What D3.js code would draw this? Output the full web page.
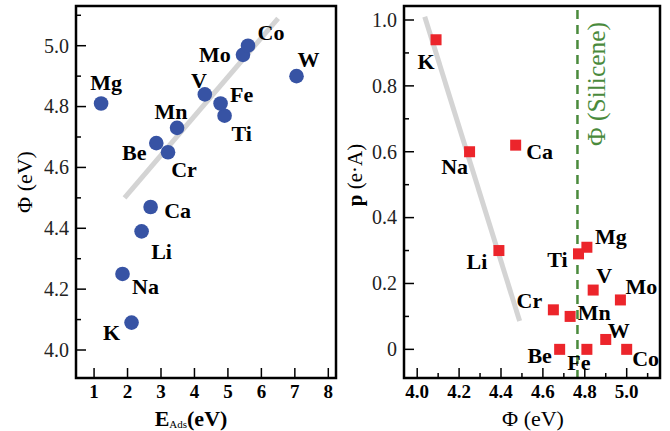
<!DOCTYPE html>
<html>
<head>
<meta charset="utf-8">
<script src="https://cdn.jsdelivr.net/npm/d3@7"></script>
<style>
  body { margin: 0; background: #fff; }
  svg text { font-family: "Liberation Serif", "Times New Roman", serif; }
</style>
</head>
<body>
<script>
// data
const elements = ['K', 'Na', 'Li', 'Ca', 'Be', 'Cr', 'Mn', 'Mg', 'Ti', 'Fe', 'V', 'Mo', 'W', 'Co'];
const eAds   = [2.12, 1.85, 2.42, 2.69, 2.86, 3.21, 3.48, 1.21, 4.90, 4.78, 4.31, 5.45, 7.05, 5.60];
const phi    = [4.09, 4.25, 4.39, 4.47, 4.68, 4.65, 4.73, 4.81, 4.77, 4.81, 4.84, 4.97, 4.90, 5.00];
const dipole = [0.94, 0.60, 0.30, 0.62, 0.00, 0.12, 0.10, 0.31, 0.29, 0.00, 0.18, 0.15, 0.03, 0.00];

const leftFit = [[1.91, 4.50], [6.50, 5.09]];
const rightFit = [[4.036, 1.01], [4.489, 0.086]];
const silicenePhi = 4.765;

const leftXTicks = [1, 2, 3, 4, 5, 6, 7, 8];
const leftYTicks = [4.0, 4.2, 4.4, 4.6, 4.8, 5.0];
const leftYMinor = [4.1, 4.3, 4.5, 4.7, 4.9, 5.1];
const rightXTicks = [4.0, 4.2, 4.4, 4.6, 4.8, 5.0];
const rightXMinor = [4.1, 4.3, 4.5, 4.7, 4.9, 5.1];
const rightYTicks = [0, 0.2, 0.4, 0.6, 0.8, 1.0];
const rightYMinor = [0.1, 0.3, 0.5, 0.7, 0.9];

const width = 670, height = 431;
const svg = d3.select('body').append('svg').attr('width', width).attr('height', height);

// label offsets (px) from each marker
const leftLabelPos = {
  K: [-20, 10], Na: [23, 13], Li: [20, 20], Ca: [27, 4], Be: [-22, 9], Cr: [16, 17], Mn: [-6, -16],
  Mg: [5, -21], Ti: [17, 18], Fe: [21, -9], V: [-6, -14], Mo: [-28, 0], W: [12, -17], Co: [23, -13]
};
const rightLabelPos = {
  K: [-10, 22], Na: [-15, 15], Li: [-22, 11], Ca: [24, 6], Be: [-20, 6], Cr: [-24, -9], Mn: [24, -4],
  Mg: [24, -11], Ti: [-21, 6], Fe: [-8, 13], V: [11, -15], Mo: [21, -13], W: [13, -9], Co: [19, 9]
};

function frame(x0, x1, y0, y1) {
  svg.append('rect')
    .attr('x', x0).attr('y', y0)
    .attr('width', x1 - x0).attr('height', y1 - y0)
    .attr('fill', 'none').attr('stroke', '#000').attr('stroke-width', 2.5);
}

function ticks(g, xScale, yScale, xMaj, xMin, yMaj, yMin, xFmt, yFmt, x0, y1) {
  xMaj.forEach(v => g.append('line').attr('x1', xScale(v)).attr('x2', xScale(v))
    .attr('y1', y1).attr('y2', y1 - 10).attr('stroke', '#000').attr('stroke-width', 1.5));
  xMin.forEach(v => g.append('line').attr('x1', xScale(v)).attr('x2', xScale(v))
    .attr('y1', y1).attr('y2', y1 - 5).attr('stroke', '#000').attr('stroke-width', 1.5));
  yMaj.forEach(v => g.append('line').attr('y1', yScale(v)).attr('y2', yScale(v))
    .attr('x1', x0).attr('x2', x0 + 10).attr('stroke', '#000').attr('stroke-width', 1.5));
  yMin.forEach(v => g.append('line').attr('y1', yScale(v)).attr('y2', yScale(v))
    .attr('x1', x0).attr('x2', x0 + 5).attr('stroke', '#000').attr('stroke-width', 1.5));

  g.selectAll(null).data(xMaj).enter().append('text')
    .attr('x', d => xScale(d)).attr('y', 398)
    .attr('text-anchor', 'middle').attr('font-weight', 'bold').attr('font-size', 19)
    .text(xFmt);
  g.selectAll(null).data(yMaj).enter().append('text')
    .attr('x', x0 - 7).attr('y', d => yScale(d)).attr('dy', '0.34em')
    .attr('text-anchor', 'end').attr('font-size', 20).attr('fill', '#222')
    .text(yFmt);
}

// ---------------- left panel ----------------
const lx = d3.scaleLinear().domain([0.46, 8.23]).range([76, 336]);
const ly = d3.scaleLinear().domain([3.908, 5.1305]).range([378, 6]);
const left = svg.append('g');

left.append('line')
  .attr('x1', lx(leftFit[0][0])).attr('y1', ly(leftFit[0][1]))
  .attr('x2', lx(leftFit[1][0])).attr('y2', ly(leftFit[1][1]))
  .attr('stroke', '#d4d4d4').attr('stroke-width', 5);

left.selectAll('circle').data(elements).enter().append('circle')
  .attr('cx', (d, i) => lx(eAds[i])).attr('cy', (d, i) => ly(phi[i]))
  .attr('r', 7.3).attr('fill', '#3753a4');

left.selectAll('text.lab').data(elements).enter().append('text')
  .attr('class', 'lab')
  .attr('x', (d, i) => lx(eAds[i]) + leftLabelPos[d][0])
  .attr('y', (d, i) => ly(phi[i]) + leftLabelPos[d][1])
  .attr('dy', '0.34em').attr('text-anchor', 'middle')
  .attr('font-weight', 'bold').attr('font-size', 22)
  .text(d => d);

ticks(left, lx, ly, leftXTicks, [], leftYTicks, leftYMinor, d => d, d => d.toFixed(1), 76, 378);
frame(76, 336, 6, 378);

const xl = left.append('text').attr('x', 191).attr('y', 426).attr('text-anchor', 'middle');
xl.append('tspan').attr('font-weight', 'bold').attr('font-size', 22).text('E');
xl.append('tspan').attr('font-size', 11).attr('dy', 2).text('Ads');
xl.append('tspan').attr('font-weight', 'bold').attr('font-size', 22).attr('dy', -2).text('(eV)');

left.append('text')
  .attr('transform', 'translate(32,182) rotate(-90)')
  .attr('text-anchor', 'middle').attr('font-size', 22)
  .text('Φ (eV)');

// ---------------- right panel ----------------
const rx = d3.scaleLinear().domain([3.937, 5.159]).range([404, 660]);
const ry = d3.scaleLinear().domain([-0.087, 1.0425]).range([378, 6]);
const right = svg.append('g');

right.append('line')
  .attr('x1', rx(rightFit[0][0])).attr('y1', ry(rightFit[0][1]))
  .attr('x2', rx(rightFit[1][0])).attr('y2', ry(rightFit[1][1]))
  .attr('stroke', '#d4d4d4').attr('stroke-width', 5);

right.append('line')
  .attr('x1', rx(silicenePhi)).attr('x2', rx(silicenePhi))
  .attr('y1', 10).attr('y2', 378)
  .attr('stroke', '#4a8a3c').attr('stroke-width', 2.5).attr('stroke-dasharray', '9,6');

right.append('text')
  .attr('transform', `translate(${rx(silicenePhi) + 28},84) rotate(-90)`)
  .attr('text-anchor', 'middle').attr('font-size', 25.5).attr('fill', '#4a8a3c')
  .text('Φ (Silicene)');

right.selectAll('rect.pt').data(elements).enter().append('rect')
  .attr('class', 'pt')
  .attr('x', (d, i) => rx(phi[i]) - 5.5).attr('y', (d, i) => ry(dipole[i]) - 5.5)
  .attr('width', 11).attr('height', 11).attr('fill', '#ec252b');

right.selectAll('text.lab').data(elements).enter().append('text')
  .attr('class', 'lab')
  .attr('x', (d, i) => rx(phi[i]) + rightLabelPos[d][0])
  .attr('y', (d, i) => ry(dipole[i]) + rightLabelPos[d][1])
  .attr('dy', '0.34em').attr('text-anchor', 'middle')
  .attr('font-weight', 'bold').attr('font-size', 22)
  .text(d => d);

ticks(right, rx, ry, rightXTicks, rightXMinor, rightYTicks, rightYMinor,
  d => d.toFixed(1), d => d === 0 ? '0' : d.toFixed(1), 404, 378);
frame(404, 660, 6, 378);

right.append('text').attr('x', 533).attr('y', 426)
  .attr('text-anchor', 'middle').attr('font-size', 22)
  .text('Φ (eV)');

const yl = right.append('text')
  .attr('transform', 'translate(362,175) rotate(-90)')
  .attr('text-anchor', 'middle').attr('font-size', 21);
yl.append('tspan').attr('font-weight', 'bold').text('p');
yl.append('tspan').text(' (e·A)');
</script>
</body>
</html>
